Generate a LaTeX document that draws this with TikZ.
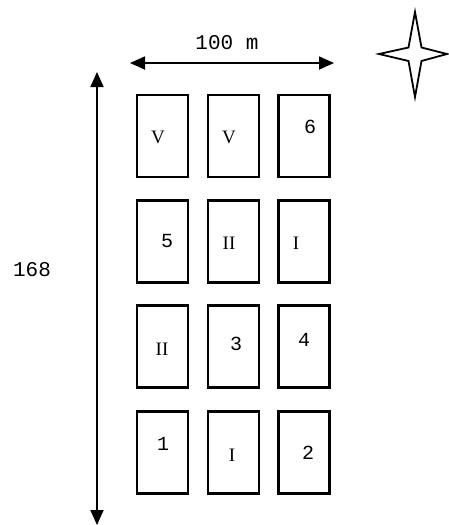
\documentclass[tikz,border=0pt]{standalone}
\usepackage{fontspec}
\setmainfont{Liberation Serif}
\setmonofont{Liberation Mono}
\usetikzlibrary{arrows.meta}
\begin{document}
\begin{tikzpicture}[x=1pt,y=-1pt,
  plot/.style={draw,line width=2.8pt,minimum width=51pt,minimum height=82pt,inner sep=0pt},
  mono/.style={font=\fontsize{20}{22}\selectfont\ttfamily,inner sep=0pt},
  dimtext/.style={font=\fontsize{21}{23}\selectfont\ttfamily,inner sep=0pt},
  roman/.style={font=\fontsize{19}{21}\selectfont\rmfamily,inner sep=0pt},
  dim/.style={line width=1.8pt,{Triangle[length=15pt,width=13pt]}-{Triangle[length=15pt,width=13pt]}}]
\useasboundingbox (0,0) rectangle (449,525);
% plots
\foreach \c/\x in {a/162.5,b/233.4,c/304.2}{
  \foreach \r/\y in {1/136,2/241.5,3/346.5,4/452.5}{
    \node[plot] (p\c\r) at (\x,\y) {};
  }
}
% labels
\node[roman] (l1) at (158,137) {V};
\node[roman] (l2) at (229,137) {V};
\node[mono]  (l3) at (310,127) {6};
\node[mono]  (l4) at (167,241) {5};
\node[roman] (l5) at (229,243) {II};
\node[roman] (l6) at (296,243) {I};
\node[roman] (l7) at (162,349) {II};
\node[mono]  (l8) at (236,344) {3};
\node[mono]  (l9) at (304,340) {4};
\node[mono]  (l10) at (163,444) {1};
\node[roman] (l11) at (232,455) {I};
\node[mono]  (l12) at (308,453) {2};
% dimensions
\coordinate (hl) at (130,63);
\coordinate (hr) at (334,63);
\draw[dim] (hl) -- (hr);
\node[dimtext] (w) at (227,43) {100 m};
\coordinate (vt) at (97,72);
\coordinate (vb) at (97,525);
\draw[dim] (vt) -- (vb);
\node[dimtext] (h) at (32,270) {168};
% compass star
\draw[line width=1.8pt,line join=miter]
  (415,12) -- (421.5,47.5) -- (447,54) -- (421.5,61) -- (415,97)
  -- (408.5,61) -- (379,54) -- (408.5,47.5) -- cycle;
\end{tikzpicture}
\end{document}
